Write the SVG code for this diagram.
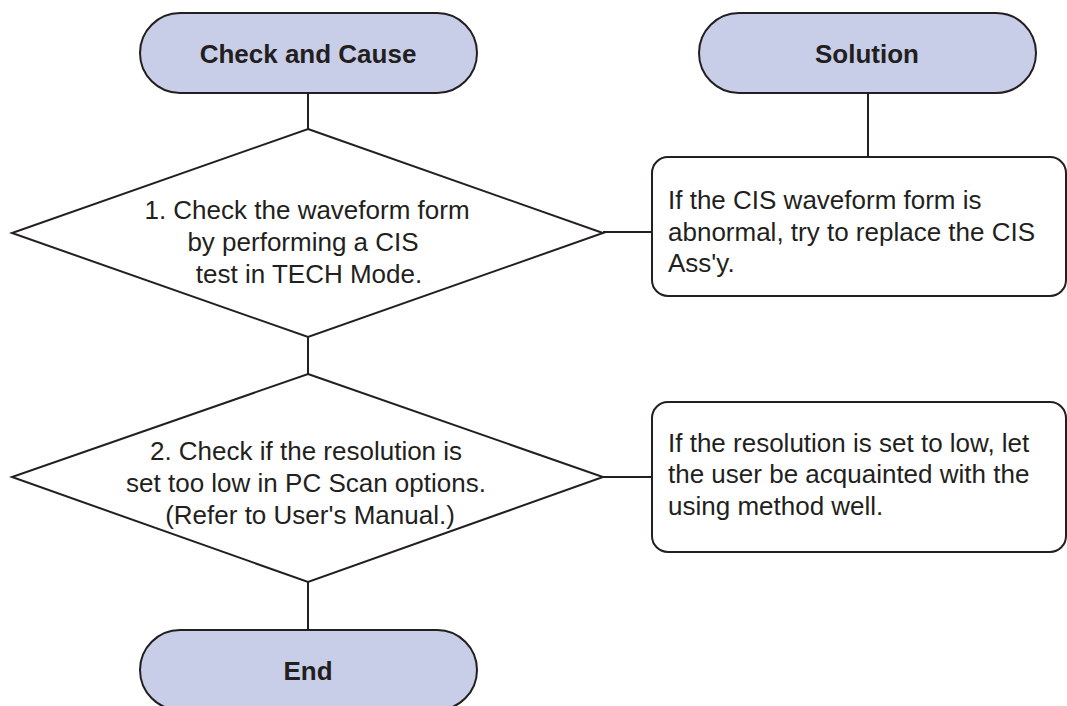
<svg xmlns="http://www.w3.org/2000/svg" width="1067" height="706" viewBox="0 0 1067 706">
<style>
.term{fill:#c9cee8;stroke:#231f20;stroke-width:2}
.dia{fill:#ffffff;stroke:#231f20;stroke-width:2;stroke-linejoin:miter}
.box{fill:#ffffff;stroke:#231f20;stroke-width:2}
.conn line{stroke:#231f20;stroke-width:2}
.tt{font-family:"Liberation Sans",Arial,sans-serif;font-size:26px;font-weight:bold;fill:#231f20;text-anchor:middle}
.dt{font-family:"Liberation Sans",Arial,sans-serif;font-size:26px;fill:#231f20;text-anchor:middle}
.bt{font-family:"Liberation Sans",Arial,sans-serif;font-size:26px;fill:#231f20}
</style>
<rect width="1067" height="706" fill="#ffffff"/>
<g id="connectors" class="conn">
<line x1="308" y1="93" x2="308" y2="129"/>
<line x1="308" y1="337" x2="308" y2="374"/>
<line x1="308" y1="582" x2="308" y2="630"/>
<line x1="868" y1="93" x2="868" y2="157"/>
<line x1="603" y1="232" x2="652" y2="232"/>
<line x1="603" y1="477" x2="652" y2="477"/>
</g>
<g id="start">
<rect class="term" x="140" y="13" width="337" height="80" rx="40" ry="40"/>
<text class="tt" x="308" y="63">Check and Cause</text>
</g>
<g id="solution">
<rect class="term" x="699" y="13" width="337" height="80" rx="40" ry="40"/>
<text class="tt" x="867" y="63">Solution</text>
</g>
<g id="check1">
<polygon class="dia" points="308,129 603,233 308,337 12,233"/>
<text class="dt" x="307" y="219">1. Check the waveform form</text>
<text class="dt" x="303" y="251">by performing a CIS</text>
<text class="dt" x="309" y="283">test in TECH Mode.</text>
</g>
<g id="solution1">
<rect class="box" x="652" y="157" width="414" height="139" rx="16" ry="16"/>
<text class="bt" x="668" y="209">If the CIS waveform form is</text>
<text class="bt" x="668" y="241">abnormal, try to replace the CIS</text>
<text class="bt" x="668" y="272">Ass'y.</text>
</g>
<g id="check2">
<polygon class="dia" points="308,374 603,477 308,582 12,477"/>
<text class="dt" x="306" y="460">2. Check if the resolution is</text>
<text class="dt" x="306" y="492">set too low in PC Scan options.</text>
<text class="dt" x="310" y="524">(Refer to User's Manual.)</text>
</g>
<g id="solution2">
<rect class="box" x="652" y="402" width="414" height="150" rx="16" ry="16"/>
<text class="bt" x="668" y="452">If the resolution is set to low, let</text>
<text class="bt" x="668" y="483">the user be acquainted with the</text>
<text class="bt" x="668" y="515">using method well.</text>
</g>
<g id="end">
<rect class="term" x="140" y="630" width="337" height="80" rx="40" ry="40"/>
<text class="tt" x="308" y="680">End</text>
</g>
</svg>
